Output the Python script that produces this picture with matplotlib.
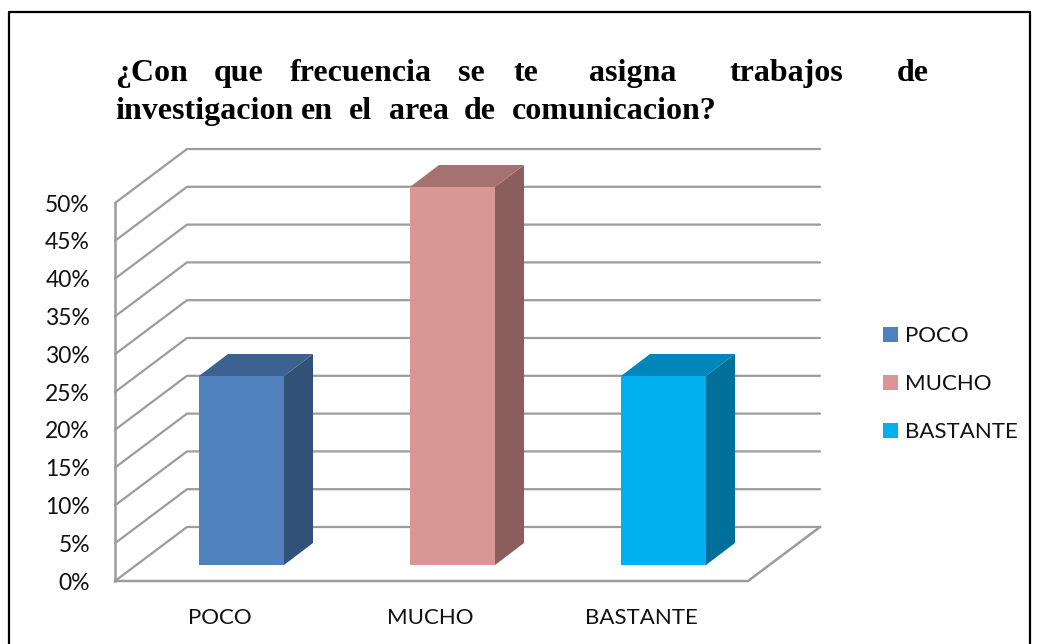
import matplotlib.pyplot as plt
from matplotlib.patches import Polygon, Rectangle

categories = ["POCO", "MUCHO", "BASTANTE"]
values = [25, 50, 25]
front_colors = ["#4F81BD", "#D99694", "#00B0F0"]
top_colors = ["#3C6291", "#A67270", "#0086B8"]
side_colors = ["#325179", "#8B5E5D", "#006F99"]
ticks = list(range(0, 55, 5))

W, H = 1040, 644
fig = plt.figure(figsize=(W / 100, H / 100), dpi=100)
ax = fig.add_axes([0, 0, 1, 1])
ax.set_xlim(0, W)
ax.set_ylim(H, 0)
ax.axis("off")

# outer frame, bottom edge is cut off in the original
ax.plot([9, 9, 1030, 1030], [650, 12, 12, 650], color="black", lw=1.6)

# value to pixel on the front wall
x0, x1 = 115, 748
y_zero, y_50 = 581, 203
dx, dy = 72, -54
def vy(v):
    return y_zero + (y_50 - y_zero) * v / 50

grid = "#9C9C9C"
for t in ticks:
    y = vy(t)
    ax.plot([x0, x0 + dx, 820], [y, y + dy, y + dy], color=grid, lw=1.6, solid_capstyle="round")
    ax.text(90, y + 2, f"{t}%", ha="right", va="center", fontsize=16.5, family="Lato", color="#111111")

# axis and floor
ax.plot([x0, x0], [y_50, y_zero], color=grid, lw=1.8)
ax.plot([x0, x1, 820], [y_zero, y_zero, y_zero + dy], color=grid, lw=1.8)

# bars stand on the floor, above the front edge
bar_w = 85
bar_left = [199, 410, 621]
base = 565
ox, oy = 29, -22
for i in range(len(values)):
    l = bar_left[i]
    r = l + bar_w
    top = base + (y_50 - y_zero) * values[i] / 50
    ax.add_patch(Polygon([(r, base), (r + ox, base + oy), (r + ox, top + oy), (r, top)], fc=side_colors[i], ec="none", zorder=3))
    ax.add_patch(Polygon([(l, top), (l + ox, top + oy), (r + ox, top + oy), (r, top)], fc=top_colors[i], ec="none", zorder=3))
    ax.add_patch(Rectangle((l, top), bar_w, base - top, fc=front_colors[i], ec="none", zorder=4))
    # labels sit left of the bar centres in the original
    ax.text(l + bar_w / 2 - 22, 618, categories[i], ha="center", va="center", fontsize=16, family="Lato", color="#111111")

# legend
for i, y in enumerate([334, 382, 430]):
    ax.add_patch(Rectangle((883, y - 7), 15, 15, fc=front_colors[i], ec="none"))
    ax.text(905, y + 2, categories[i], ha="left", va="center", fontsize=16, family="Lato", color="#111111")

# title, spaced word by word like the justified original
line1 = [("¿Con", 115), ("que", 214), ("frecuencia", 290), ("se", 458), ("te", 513), ("asigna", 589), ("trabajos", 730), ("de", 897)]
line2 = [("investigacion", 115), ("en", 301), ("el", 349), ("area", 389), ("de", 464), ("comunicacion?", 512)]
for w, x in line1:
    ax.text(x, 81, w, ha="left", va="baseline", fontsize=23, family="Liberation Serif", weight="bold", color="black")
for w, x in line2:
    ax.text(x, 119, w, ha="left", va="baseline", fontsize=23, family="Liberation Serif", weight="bold", color="black")

fig.savefig("out.png", dpi=100)
